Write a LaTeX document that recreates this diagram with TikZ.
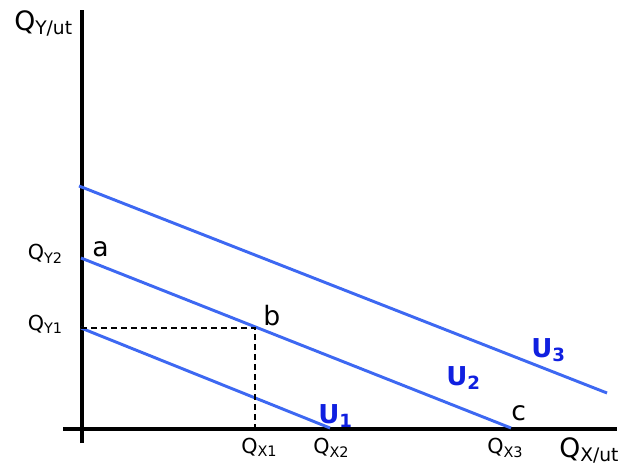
\documentclass[tikz,border=0pt]{standalone}
\usepackage{fontspec}
\setmainfont{DejaVu Sans}
\usetikzlibrary{positioning}
\definecolor{curveblue}{HTML}{3D68F2}
\definecolor{labelblue}{HTML}{1020E0}

\tikzset{
  axisline/.style={line width=3pt, line cap=butt},
  indiff/.style={curveblue, line width=2.2pt},
  guide/.style={dash pattern=on 4.5pt off 3pt, line width=1.1pt},
  pointlab/.style={anchor=base west, inner sep=0pt, font=\fontsize{20}{22}\selectfont},
  ticklab/.style={inner sep=0pt, font=\fontsize{15.5}{17}\selectfont},
  axislab/.style={anchor=base west, inner sep=0pt, font=\fontsize{20}{22}\selectfont},
  ulab/.style={anchor=base west, inner sep=0pt, labelblue, font=\bfseries\fontsize{19.5}{21}\selectfont}
}

\begin{document}
\begin{tikzpicture}[x=0.75pt, y=-0.75pt]
  \useasboundingbox (0,0) rectangle (631,464);

  % axes
  \coordinate (origin) at (82,429);
  \coordinate (ytop) at (82,10);
  \coordinate (ybot) at (82,443);
  \coordinate (xleft) at (63,429);
  \coordinate (xright) at (617,429);
  \draw[axisline] (ybot) -- (ytop);
  \draw[axisline] (xleft) -- (xright);

  % indifference curves
  \coordinate (qy1) at (81,328);
  \coordinate (qy2) at (81,258);
  \coordinate (qy3) at (79,186);
  \coordinate (qx2) at (330,428);
  \coordinate (qx3) at (511,428);
  \coordinate (u3end) at (607,393);
  \coordinate (pb) at (255,328);
  \coordinate (qx1) at (255,429);
  \draw[indiff] (qy1) -- (qx2);
  \draw[indiff] (qy2) -- (qx3);
  \draw[indiff] (qy3) -- (u3end);

  % guide lines to b
  \draw[guide] (qy1) -- (pb) -- (qx1);

  % labels
  \node[axislab] (ylab) at (14,30) {Q\textsubscript{Y/ut}};
  \node[axislab] (xlab) at (559,457) {Q\textsubscript{X/ut}};
  \node[ticklab, anchor=base east] (ly2) at (63,259) {Q\textsubscript{Y2}};
  \node[ticklab, anchor=base east] (ly1) at (63,330) {Q\textsubscript{Y1}};
  \node[ticklab, anchor=base west] (lx1) at (241,453) {Q\textsubscript{X1}};
  \node[ticklab, anchor=base west] (lx2) at (313,453) {Q\textsubscript{X2}};
  \node[ticklab, anchor=base west] (lx3) at (487,453) {Q\textsubscript{X3}};
  \node[pointlab] (la) at (92,256) {a};
  \node[pointlab] (lb) at (263,325) {b};
  \node[pointlab] (lc) at (511,420) {c};
  \node[ulab] (u1) at (318,423) {U\textsubscript{1}};
  \node[ulab] (u2) at (446,385) {U\textsubscript{2}};
  \node[ulab] (u3) at (531,357) {U\textsubscript{3}};
\end{tikzpicture}
\end{document}
